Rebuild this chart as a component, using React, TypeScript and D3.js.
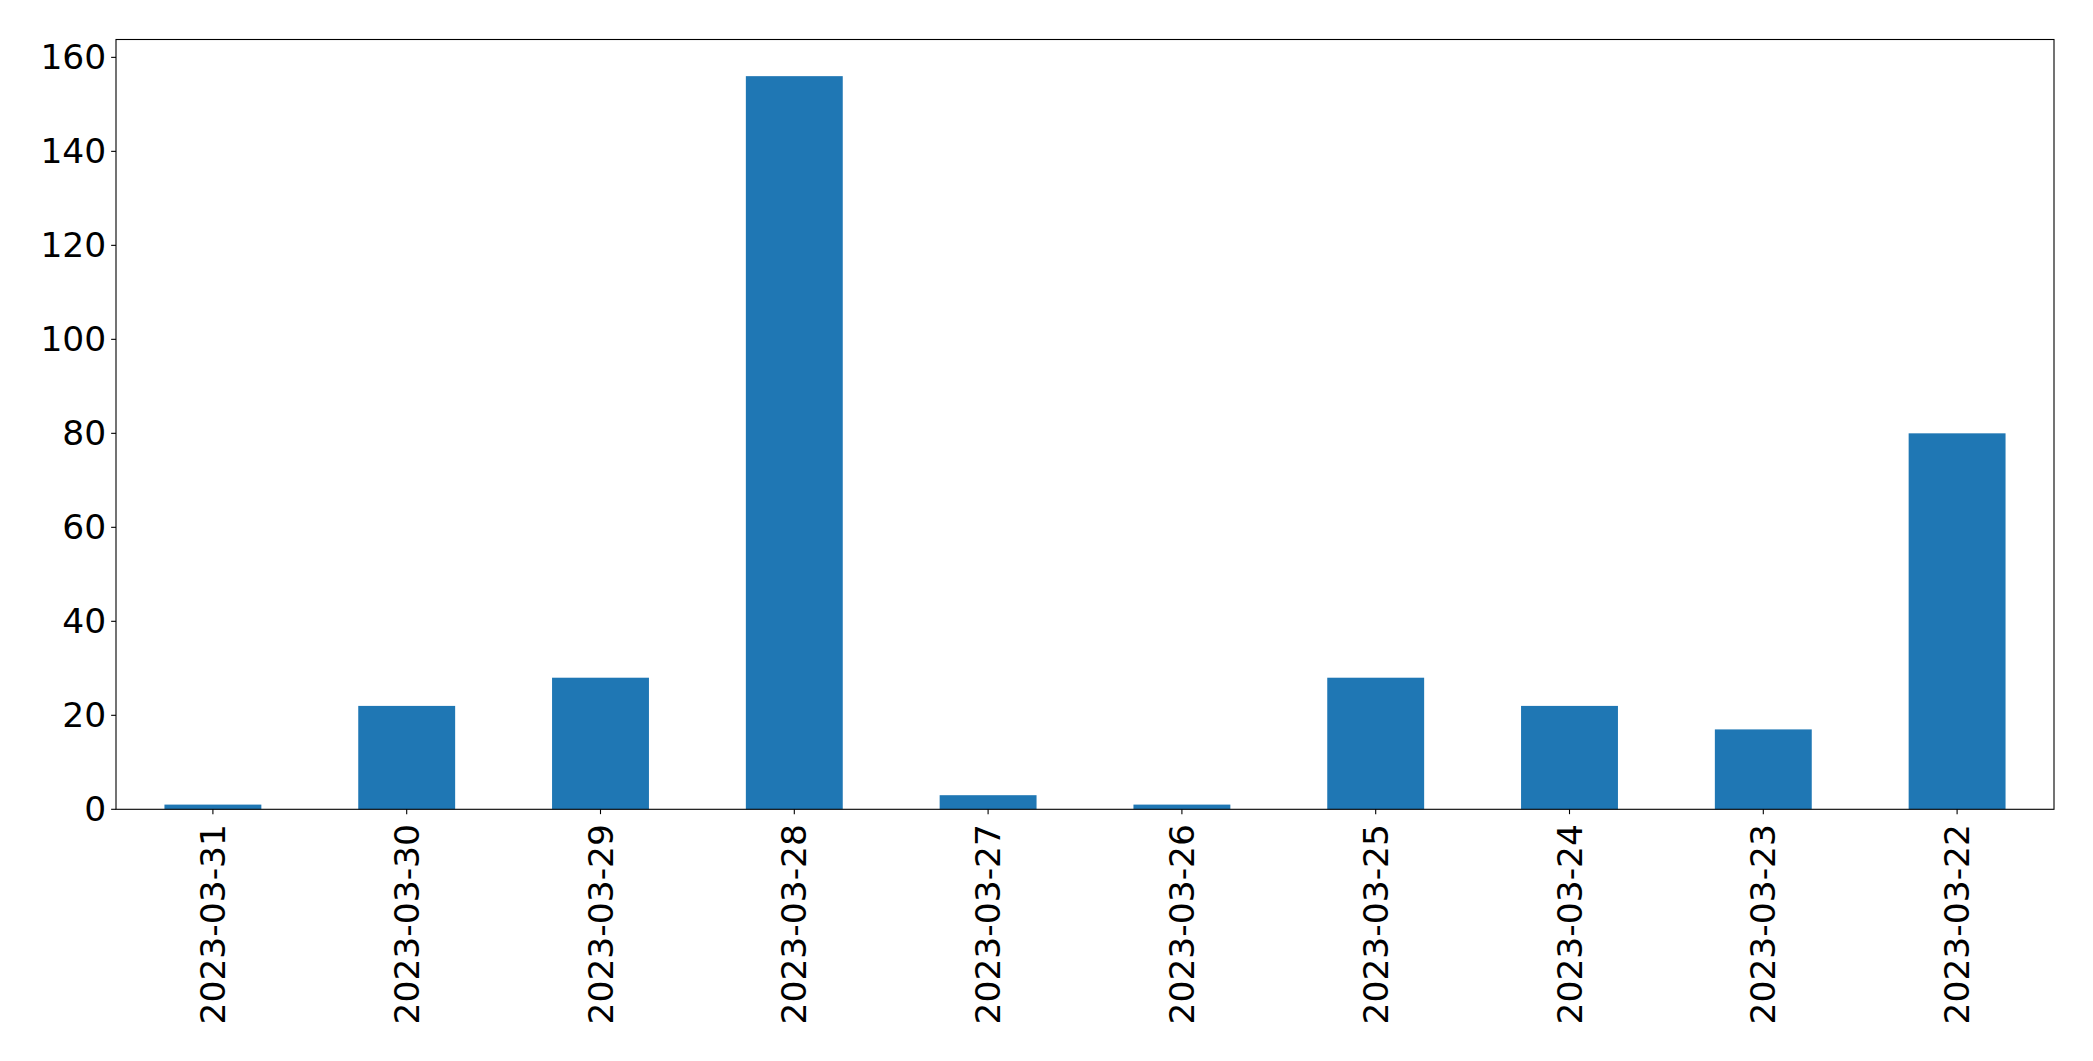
import React, { useEffect, useRef } from "react";
import * as d3 from "d3";

const categories = [
  "2023-03-31", "2023-03-30", "2023-03-29", "2023-03-28", "2023-03-27",
  "2023-03-26", "2023-03-25", "2023-03-24", "2023-03-23", "2023-03-22",
];
const values = [1, 22, 28, 156, 3, 1, 28, 22, 17, 80];
const yTicks = [0, 20, 40, 60, 80, 100, 120, 140, 160];

const W = 2093;
const H = 1061;
const margin = { left: 116, right: 2054, top: 39.5, bottom: 809.3 };
const FONT = "DejaVu Sans, sans-serif";
const FS = 34.5;
const TICK = 4.86;
const PAD = 4.86;

export default function App() {
  const ref = useRef<SVGSVGElement>(null);
  useEffect(() => {
    const svg = d3.select(ref.current);
    svg.selectAll("*").remove();
    const n = categories.length;
    const x = d3.scaleLinear().domain([-0.5, n - 0.5]).range([margin.left, margin.right]);
    const yMax = d3.max(values)! * 1.05;
    const y = d3.scaleLinear().domain([0, yMax]).range([margin.bottom, margin.top]);

    svg.append("rect").attr("width", W).attr("height", H).attr("fill", "white");

    svg.append("g").selectAll("rect").data(values).join("rect")
      .attr("x", (_, i) => x(i - 0.25))
      .attr("width", (_, i) => x(i + 0.25) - x(i - 0.25))
      .attr("y", (d) => y(d))
      .attr("height", (d) => y(0) - y(d))
      .attr("fill", "#1f77b4");

    // spines
    svg.append("rect")
      .attr("x", margin.left).attr("y", margin.top)
      .attr("width", margin.right - margin.left)
      .attr("height", margin.bottom - margin.top)
      .attr("fill", "none").attr("stroke", "black").attr("stroke-width", 1.1);

    // y ticks
    const gy = svg.append("g");
    yTicks.forEach((t) => {
      gy.append("line")
        .attr("x1", margin.left - TICK).attr("x2", margin.left)
        .attr("y1", y(t)).attr("y2", y(t))
        .attr("stroke", "black").attr("stroke-width", 1.1);
      gy.append("text")
        .attr("x", margin.left - TICK - PAD)
        .attr("y", y(t))
        .attr("text-anchor", "end")
        .attr("dominant-baseline", "central")
        .attr("font-family", FONT).attr("font-size", FS)
        .attr("fill", "black")
        .text(String(t));
    });

    // x ticks
    const gx = svg.append("g");
    categories.forEach((c, i) => {
      const cx = x(i);
      gx.append("line")
        .attr("x1", cx).attr("x2", cx)
        .attr("y1", margin.bottom).attr("y2", margin.bottom + TICK)
        .attr("stroke", "black").attr("stroke-width", 1.1);
      const ty = margin.bottom + TICK + PAD + 5;
      gx.append("text")
        .attr("transform", `translate(${cx},${ty}) rotate(-90)`)
        .attr("text-anchor", "end")
        .attr("dominant-baseline", "central")
        .attr("font-family", FONT).attr("font-size", FS)
        .attr("fill", "black")
        .text(c);
    });
  }, []);
  return (
    <svg
      ref={ref}
      width={W}
      height={H}
      style={{ position: "absolute", left: 0, top: 0, display: "block" }}
    />
  );
}
